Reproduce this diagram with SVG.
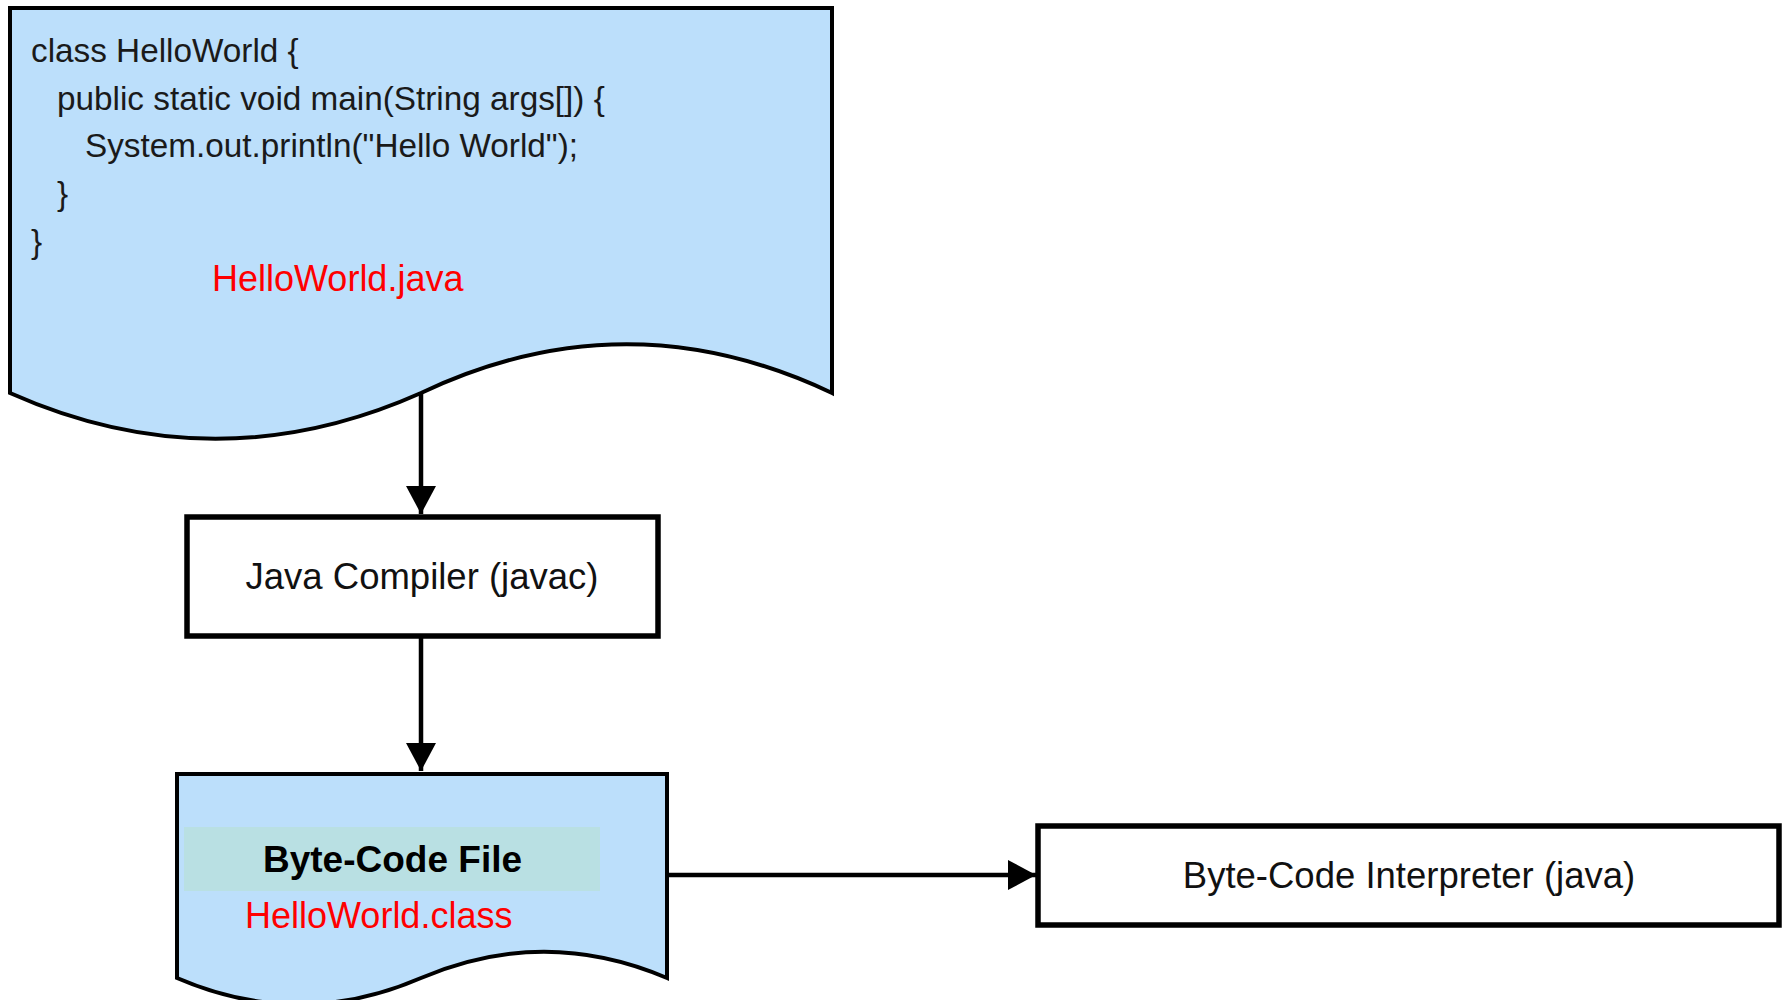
<svg xmlns="http://www.w3.org/2000/svg" width="1784" height="1000" viewBox="0 0 1784 1000">
<style>
.doc{fill:#bcdffb;stroke:#000;stroke-width:4;stroke-linejoin:miter}
.box{fill:#fff;stroke:#000;stroke-width:5.5}
.code{font-family:"Liberation Sans",Arial,sans-serif;font-size:33.3px;fill:#1a1a1a}
.red{font-family:"Liberation Sans",Arial,sans-serif;font-size:36px;fill:#ff0000}
.lbl{font-family:"Liberation Sans",Arial,sans-serif;font-size:36.5px;fill:#111;text-anchor:middle}
.bold{font-family:"Liberation Sans",Arial,sans-serif;font-size:37px;font-weight:bold;fill:#000}
.conn{stroke:#000;stroke-width:4.5;fill:none}
</style>
<defs>
<marker id="arr" markerUnits="userSpaceOnUse" markerWidth="30" markerHeight="32" refX="28" refY="15" orient="auto" viewBox="0 0 30 30">
<path d="M0,0 L28,15 L0,30 Z" fill="#000"/>
</marker>
</defs>
<rect width="1784" height="1000" fill="#fff"/>
<g id="source-file">
<path class="doc" d="M10,8 H832 V393 C695,328 558,328 421,393 C284,454 147,454 10,393 Z"/>
<text class="code" x="31" y="62">class HelloWorld {</text>
<text class="code" x="57" y="110">public static void main(String args[]) {</text>
<text class="code" x="85" y="157">System.out.println("Hello World");</text>
<text class="code" x="57" y="205">}</text>
<text class="code" x="31" y="253">}</text>
<text class="red" x="212" y="291">HelloWorld.java</text>
</g>
<g id="compiler">
<rect class="box" x="187" y="517" width="471" height="119"/>
<text class="lbl" x="422" y="589">Java Compiler (javac)</text>
</g>
<g id="bytecode-file">
<path class="doc" d="M177,774 H667 V978 C585,943 503,943 421,978 C340,1013 258,1013 177,978 Z"/>
<rect x="184" y="827" width="416" height="64" fill="#b9e0e3"/>
<text class="bold" x="263" y="872">Byte-Code File</text>
<text class="red" x="245" y="928">HelloWorld.class</text>
</g>
<g id="interpreter">
<rect class="box" x="1038" y="826" width="741" height="99"/>
<text class="lbl" x="1409" y="888">Byte-Code Interpreter (java)</text>
</g>
<g id="connectors">
<line class="conn" x1="421" y1="393" x2="421" y2="514" marker-end="url(#arr)"/>
<line class="conn" x1="421" y1="636" x2="421" y2="771" marker-end="url(#arr)"/>
<line class="conn" x1="667" y1="875" x2="1036" y2="875" marker-end="url(#arr)"/>
</g>
</svg>
